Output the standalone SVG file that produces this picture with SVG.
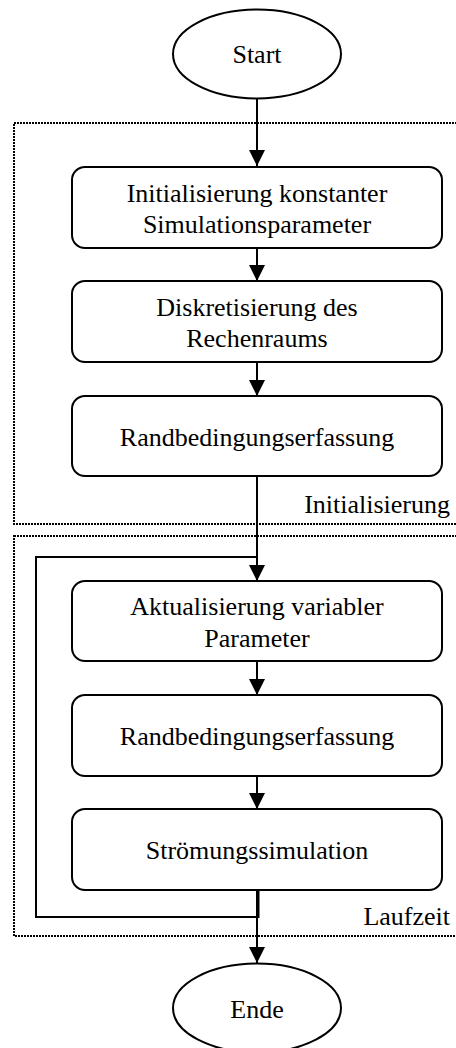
<svg xmlns="http://www.w3.org/2000/svg" width="456" height="1048" viewBox="0 0 456 1048">
<style>
.node{fill:#fff;stroke:#000;stroke-width:2}
.grp{fill:none;stroke:#000;stroke-width:2;stroke-dasharray:2 1}
.edge{fill:none;stroke:#000;stroke-width:2}
text{font-family:"Liberation Serif","Times New Roman",serif;font-size:26px;fill:#000}
.c{text-anchor:middle}
.r{text-anchor:end}
</style>
<defs>
<marker id="arr" markerUnits="userSpaceOnUse" markerWidth="16" markerHeight="16" refX="16" refY="8" orient="auto" viewBox="0 0 16 16">
<path d="M0,0 L16,8 L0,16 z" fill="#000"/>
</marker>
</defs>
<rect width="456" height="1048" fill="#fff"/>
<g id="groups">
<rect class="grp" x="14" y="123" width="460" height="401"/>
<text class="r" x="450" y="513">Initialisierung</text>
<rect class="grp" x="14" y="536" width="460" height="400"/>
<text class="r" x="450" y="925">Laufzeit</text>
</g>
<g id="connectors">
<path class="edge" d="M257,99 V166" marker-end="url(#arr)"/>
<path class="edge" d="M257,248 V281" marker-end="url(#arr)"/>
<path class="edge" d="M257,362 V396" marker-end="url(#arr)"/>
<path class="edge" d="M257,476 V581" marker-end="url(#arr)"/>
<path class="edge" d="M258.5,890 V917 H36 V557 H257"/>
<path class="edge" d="M257,661 V695" marker-end="url(#arr)"/>
<path class="edge" d="M257,776 V809" marker-end="url(#arr)"/>
<path class="edge" d="M257,890 V963" marker-end="url(#arr)"/>
</g>
<g id="start">
<ellipse class="node" cx="257" cy="54" rx="84" ry="44.5"/>
<text class="c" x="257" y="63">Start</text>
</g>
<g id="init-const">
<rect class="node" x="72" y="167" width="370" height="81" rx="13"/>
<text class="c" x="257" y="201.5">Initialisierung konstanter</text>
<text class="c" x="257" y="233">Simulationsparameter</text>
</g>
<g id="diskret">
<rect class="node" x="72" y="281" width="370" height="81" rx="13"/>
<text class="c" x="257" y="316">Diskretisierung des</text>
<text class="c" x="257" y="347">Rechenraums</text>
</g>
<g id="rb1">
<rect class="node" x="72" y="396" width="370" height="80" rx="13"/>
<text class="c" x="257" y="445.5">Randbedingungserfassung</text>
</g>
<g id="aktual">
<rect class="node" x="72" y="581" width="370" height="80" rx="13"/>
<text class="c" x="257" y="615">Aktualisierung variabler</text>
<text class="c" x="257" y="646.5">Parameter</text>
</g>
<g id="rb2">
<rect class="node" x="72" y="695" width="370" height="81" rx="13"/>
<text class="c" x="257" y="744.5">Randbedingungserfassung</text>
</g>
<g id="stroemung">
<rect class="node" x="72" y="809" width="370" height="81" rx="13"/>
<text class="c" x="257" y="859">Strömungssimulation</text>
</g>
<g id="ende">
<ellipse class="node" cx="257" cy="1008" rx="84" ry="44.5"/>
<text class="c" x="257" y="1017.5">Ende</text>
</g>
</svg>
